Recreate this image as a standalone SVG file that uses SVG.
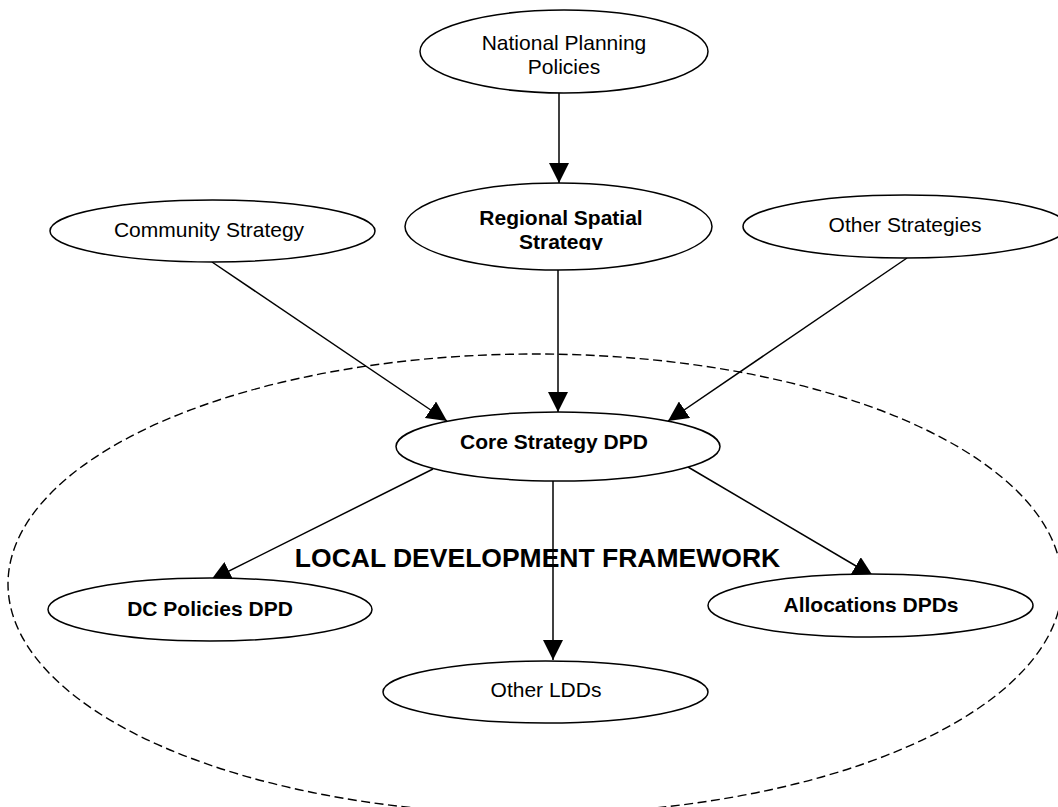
<svg xmlns="http://www.w3.org/2000/svg" width="1058" height="807" viewBox="0 0 1058 807">
<style>
.node{fill:#fff;stroke:#000;stroke-width:1.5}
.t{font-family:"Liberation Sans",Arial,sans-serif;font-size:21px;fill:#000;text-anchor:middle}
.b{font-weight:bold}
.conn{stroke:#000;stroke-width:1.5;fill:none}
.frame{fill:none;stroke:#000;stroke-width:1.4;stroke-dasharray:9 4.5}
</style>
<defs>
<marker id="arr" markerUnits="userSpaceOnUse" markerWidth="20" markerHeight="20" refX="20" refY="10" orient="auto" viewBox="0 0 20 20">
<path d="M0,0 L20,10 L0,20 z" fill="#000"/>
</marker>
<clipPath id="clipRSS"><rect x="400" y="180" width="320" height="70"/></clipPath>
</defs>
<rect width="1058" height="807" fill="#fff"/>
<g id="ldf-boundary">
<ellipse class="frame" cx="535" cy="584" rx="527" ry="230"/>
<text class="t b" x="537.5" y="567" style="font-size:26.5px">LOCAL DEVELOPMENT FRAMEWORK</text>
</g>
<g id="connectors">
<line class="conn" x1="559" y1="93" x2="559" y2="183" marker-end="url(#arr)"/>
<line class="conn" x1="558" y1="270" x2="558" y2="412" marker-end="url(#arr)"/>
<line class="conn" x1="212" y1="262" x2="447" y2="421" marker-end="url(#arr)"/>
<line class="conn" x1="907" y1="258" x2="668" y2="421" marker-end="url(#arr)"/>
<line class="conn" x1="433" y1="469" x2="211" y2="580" marker-end="url(#arr)"/>
<line class="conn" x1="688" y1="467" x2="873" y2="576" marker-end="url(#arr)"/>
<line class="conn" x1="553" y1="481" x2="553" y2="660" marker-end="url(#arr)"/>
</g>
<g id="national-planning-policies">
<ellipse class="node" cx="564" cy="51.5" rx="144" ry="41.5"/>
<text class="t" x="564" y="50">National Planning</text>
<text class="t" x="564" y="74">Policies</text>
</g>
<g id="regional-spatial-strategy">
<ellipse class="node" cx="558.5" cy="226.5" rx="153.5" ry="43.5"/>
<g clip-path="url(#clipRSS)">
<text class="t b" x="561" y="225">Regional Spatial</text>
<text class="t b" x="561" y="248.5">Strategy</text>
</g>
</g>
<g id="community-strategy">
<ellipse class="node" cx="212.5" cy="231" rx="162.5" ry="31"/>
<text class="t" x="209" y="237">Community Strategy</text>
</g>
<g id="other-strategies">
<ellipse class="node" cx="905" cy="226.5" rx="162" ry="31.5"/>
<text class="t" x="905" y="232">Other Strategies</text>
</g>
<g id="core-strategy-dpd">
<ellipse class="node" cx="558" cy="446.5" rx="162" ry="34.5"/>
<text class="t b" x="554" y="449">Core Strategy DPD</text>
</g>
<g id="dc-policies-dpd">
<ellipse class="node" cx="210" cy="609.5" rx="162" ry="31.5"/>
<text class="t b" x="210" y="616">DC Policies DPD</text>
</g>
<g id="allocations-dpds">
<ellipse class="node" cx="870.5" cy="605.5" rx="162.5" ry="31.5"/>
<text class="t b" x="871" y="612">Allocations DPDs</text>
</g>
<g id="other-ldds">
<ellipse class="node" cx="545.5" cy="692" rx="162.5" ry="31"/>
<text class="t" x="546" y="697">Other LDDs</text>
</g>
</svg>
